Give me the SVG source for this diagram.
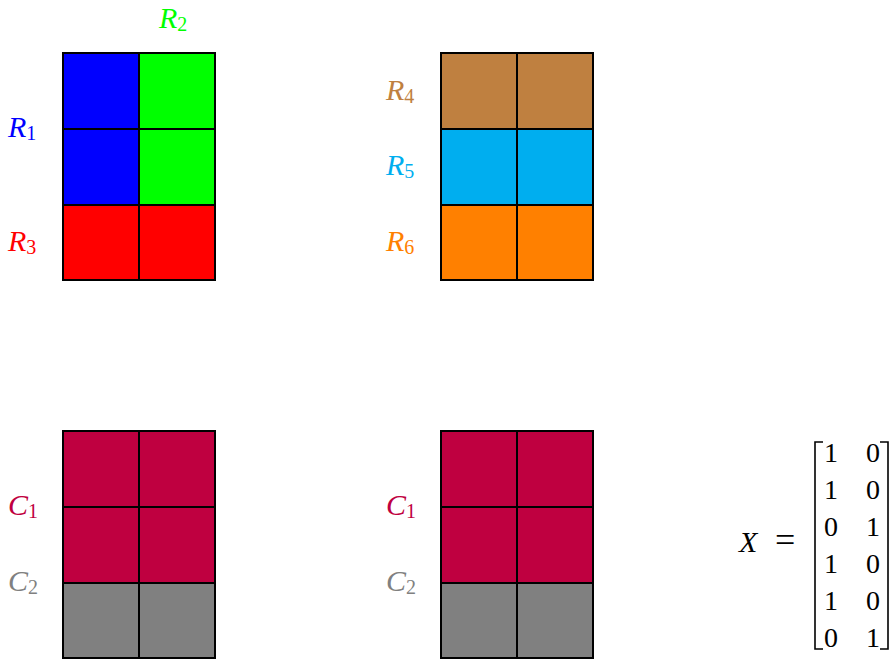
<svg xmlns="http://www.w3.org/2000/svg" width="892" height="661" viewBox="0 0 892 661">
<style>
.g{stroke:#000;stroke-width:2;fill:none}
.c{stroke:none}
text{font-family:'Liberation Serif','Times New Roman',serif}
.lbl{font-style:italic;font-size:30px}
.sub{font-style:normal;font-size:20px}
.num{font-size:28px}
.br{stroke:#000;stroke-width:1.6;fill:none}
</style>
<rect width="892" height="661" fill="#fff"/>
<g id="gridA">
<rect class="c" x="63" y="53" width="76" height="152" fill="#0000FF"/>
<rect class="c" x="139" y="53" width="76" height="152" fill="#00FF00"/>
<rect class="c" x="63" y="205" width="152" height="75" fill="#FF0000"/>
<path class="g" d="M63,53H215V280H63Z M139,53V280 M63,129H215 M63,205H215"/>
<text class="lbl" x="8" y="137" fill="#0000FF">R<tspan class="sub" dy="3">1</tspan></text>
<text class="lbl" x="159" y="28" fill="#00FF00">R<tspan class="sub" dy="3">2</tspan></text>
<text class="lbl" x="8" y="251" fill="#FF0000">R<tspan class="sub" dy="3">3</tspan></text>
</g>
<g id="gridB">
<rect class="c" x="441" y="53" width="152" height="76" fill="#BF8040"/>
<rect class="c" x="441" y="129" width="152" height="76" fill="#00AEEF"/>
<rect class="c" x="441" y="205" width="152" height="75" fill="#FF8000"/>
<path class="g" d="M441,53H593V280H441Z M517,53V280 M441,129H593 M441,205H593"/>
<text class="lbl" x="386" y="100" fill="#BF8040">R<tspan class="sub" dy="3">4</tspan></text>
<text class="lbl" x="386" y="175" fill="#00AEEF">R<tspan class="sub" dy="3">5</tspan></text>
<text class="lbl" x="386" y="251" fill="#FF8000">R<tspan class="sub" dy="3">6</tspan></text>
</g>
<g id="gridC">
<rect class="c" x="63" y="431" width="152" height="152" fill="#BF0040"/>
<rect class="c" x="63" y="583" width="152" height="75" fill="#808080"/>
<path class="g" d="M63,431H215V658H63Z M139,431V658 M63,507H215 M63,583H215"/>
<text class="lbl" x="8" y="515" fill="#BF0040">C<tspan class="sub" dy="3">1</tspan></text>
<text class="lbl" x="8" y="591" fill="#808080">C<tspan class="sub" dy="3">2</tspan></text>
</g>
<g id="gridD">
<rect class="c" x="441" y="431" width="152" height="152" fill="#BF0040"/>
<rect class="c" x="441" y="583" width="152" height="75" fill="#808080"/>
<path class="g" d="M441,431H593V658H441Z M517,431V658 M441,507H593 M441,583H593"/>
<text class="lbl" x="386" y="515" fill="#BF0040">C<tspan class="sub" dy="3">1</tspan></text>
<text class="lbl" x="386" y="591" fill="#808080">C<tspan class="sub" dy="3">2</tspan></text>
</g>
<g id="matrix">
<text class="lbl" x="739" y="552">X</text>
<text class="num" x="775" y="552" style="font-size:36px">=</text>
<path class="br" d="M823,442H815V649H823"/>
<path class="br" d="M880,442H888V649H880"/>
<g class="num" text-anchor="middle">
<text x="831" y="462">1</text><text x="873" y="462">0</text>
<text x="831" y="499">1</text><text x="873" y="499">0</text>
<text x="831" y="536">0</text><text x="873" y="536">1</text>
<text x="831" y="573">1</text><text x="873" y="573">0</text>
<text x="831" y="610">1</text><text x="873" y="610">0</text>
<text x="831" y="647">0</text><text x="873" y="647">1</text>
</g>
</g>
</svg>
